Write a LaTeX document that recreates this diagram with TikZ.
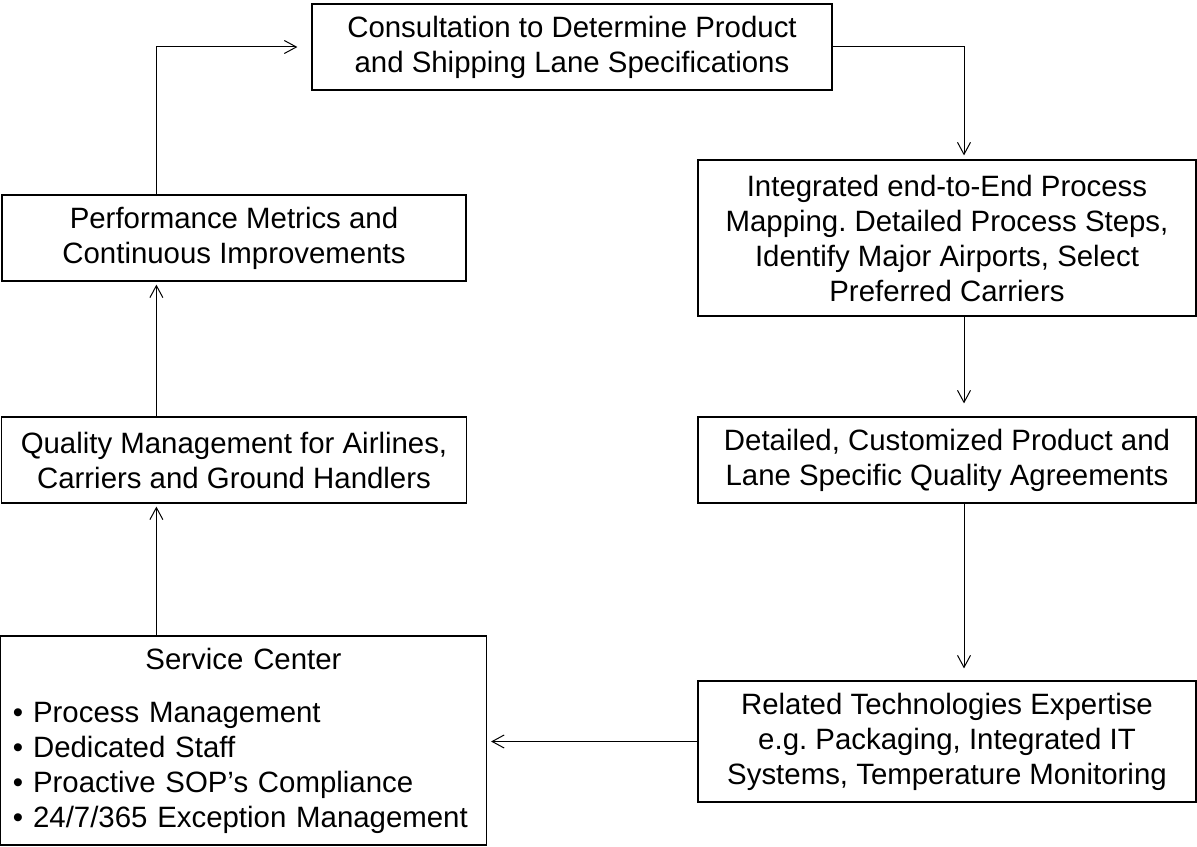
\documentclass[tikz,border=0pt]{standalone}
\usepackage{fontspec}
\setmainfont{Liberation Sans}
\usetikzlibrary{positioning}
\usetikzlibrary{arrows.meta}
\frenchspacing

\begin{document}
\begin{tikzpicture}[shorten >=1.5pt,on grid,line width=0.5pt,
   >={Straight Barb[length=6pt,width=6.5pt]},
   stage/.style={draw,line width=0.6pt,inner sep=0pt,align=center,
      font=\fontsize{14.7pt}{17.5pt}\selectfont}]
   \useasboundingbox (-286pt,23.5pt) rectangle (312.5pt,-399.5pt);
   \node[stage,minimum width=260pt,minimum height=43pt] (cons) at (0,0)
      {Consultation to Determine Product\\and Shipping Lane Specifications};
   \node[stage,minimum width=232pt,minimum height=43pt] (perf) [below left=95.5pt and 169pt of cons]
      {Performance Metrics and\\Continuous Improvements};
   \node[stage,minimum width=249pt,minimum height=78pt] (map) [right=356.5pt of perf]
      {Integrated end-to-End Process\\Mapping. Detailed Process Steps,\\Identify Major Airports, Select\\Preferred Carriers};
   \node[stage,minimum width=232.5pt,minimum height=43pt] (qual) [below=111pt of perf]
      {Quality Management for Airlines,\\Carriers and Ground Handlers};
   \node[stage,minimum width=249pt,minimum height=43pt] (agree) [below=111pt of map]
      {Detailed, Customized Product and\\Lane Specific Quality Agreements};
   \node[stage,minimum width=249pt,minimum height=60.5pt] (tech) [below=140.75pt of agree]
      {Related Technologies Expertise\\e.g. Packaging, Integrated IT\\Systems, Temperature Monitoring};
   \node[stage,text width=230.5pt,inner xsep=6.25pt,minimum height=104.5pt,align=left] (svc)
      [below=140.25pt of qual,xshift=4.75pt]
      {{\centering Service Center\par}\vspace{9pt}%
       \textbullet\ Process Management\\
       \textbullet\ Dedicated Staff\\
       \textbullet\ Proactive SOP’s Compliance\\
       \textbullet\ 24/7/365 Exception Management};
   \coordinate (lx) at ([xshift=77.5pt]perf.west);
   \coordinate (rx) at ([xshift=8.5pt]map.center);
   \draw[->,shorten >=7pt] (perf.north -| lx) |- (cons.west);
   \draw[->,shorten >=2pt] (cons.east) -| (map.north -| rx);
   \draw[->,shorten >=6.5pt] (map.south -| rx) -- (agree.north -| rx);
   \draw[->,shorten >=6pt] (agree.south -| rx) -- (tech.north -| rx);
   \draw[->,shorten >=2pt] (tech.west) -- (tech.west -| svc.east);
   \draw[->] (svc.north -| lx) -- (qual.south -| lx);
   \draw[->] (qual.north -| lx) -- (perf.south -| lx);
\end{tikzpicture}
\end{document}
